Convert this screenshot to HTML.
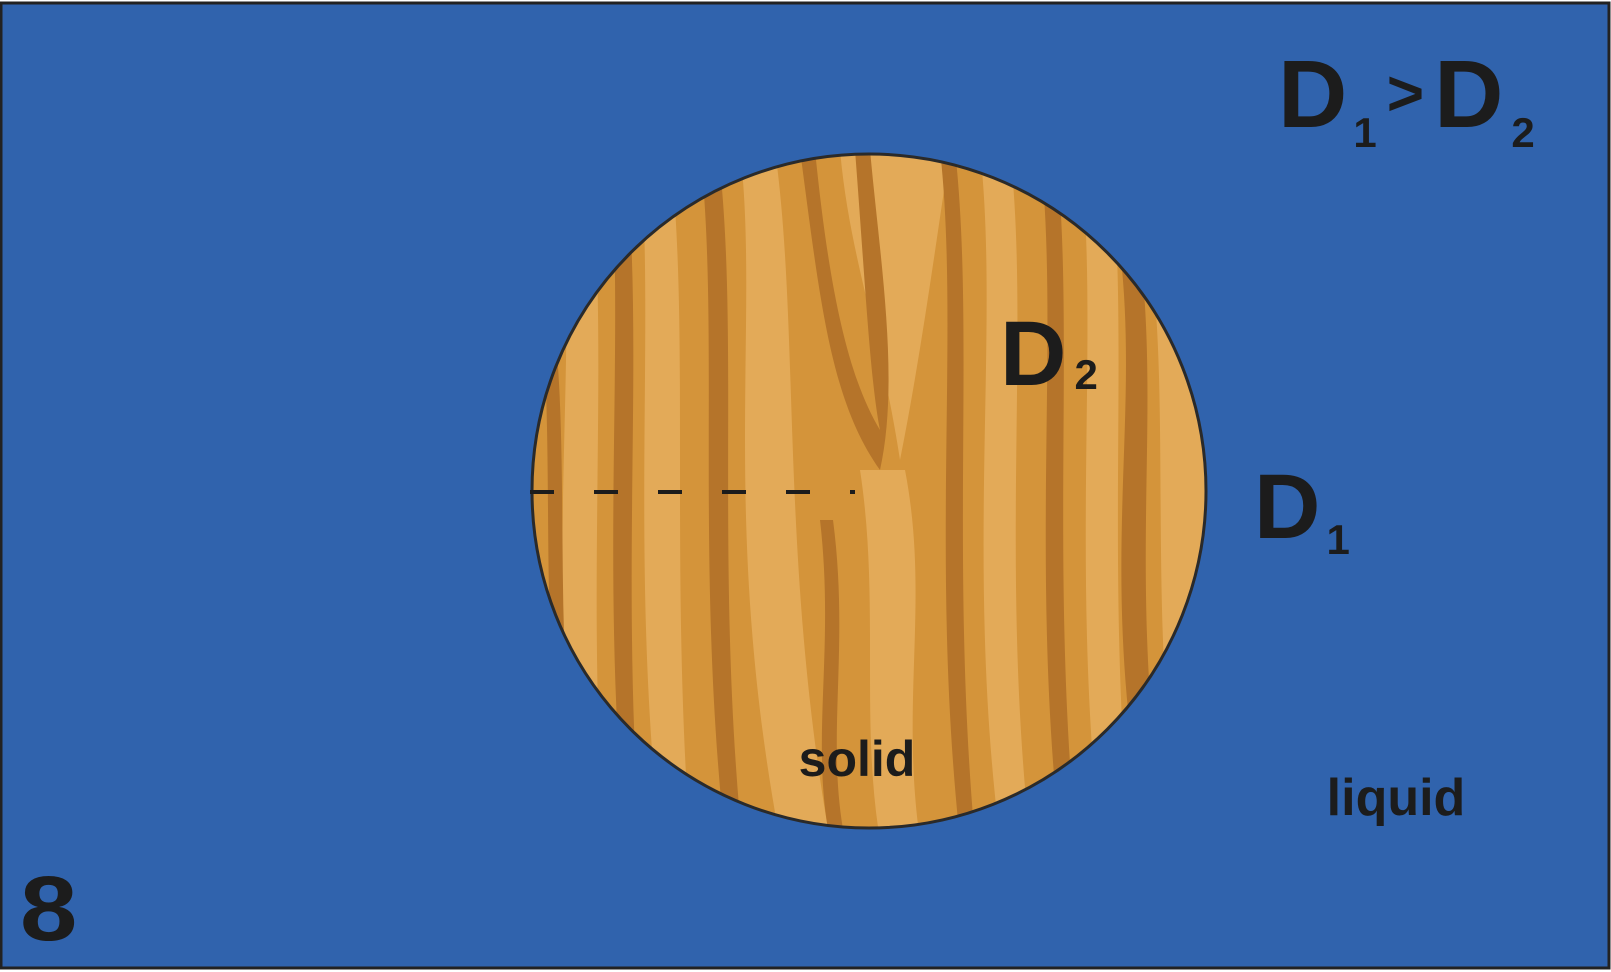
<!DOCTYPE html>
<html><head><meta charset="utf-8">
<style>
html,body{margin:0;padding:0;background:#fff;}
svg{display:block;}
text{font-family:"Liberation Sans",sans-serif;fill:#1c1c1c;}
</style></head>
<body>
<svg width="1611" height="972" viewBox="0 0 1611 972">
  <defs>
    <clipPath id="circ"><circle cx="869" cy="491" r="337"/></clipPath>
  </defs>
  <rect x="0" y="0" width="1611" height="972" fill="#fff"/>
  <rect x="1" y="3" width="1608" height="965" fill="#3063ad" stroke="#222" stroke-width="3"/>
  <g clip-path="url(#circ)">
    <rect x="520" y="140" width="700" height="700" fill="#d4943a"/>
    <g fill="#e3aa58">
      <path d="M560 150 C580 350 545 550 575 840 L605 840 C585 600 610 350 590 150Z"/>
      <path d="M640 150 C655 330 630 560 660 840 L690 840 C670 560 690 330 670 150Z"/>
      <path d="M740 150 C760 320 720 520 780 840 L830 840 C780 560 800 330 775 150Z"/>
      <path d="M840 150 C850 260 880 330 900 460 C920 360 935 250 950 150Z"/>
      <path d="M860 470 C880 600 860 720 880 840 L920 840 C900 700 930 600 905 470Z"/>
      <path d="M980 150 C1000 330 965 560 1000 840 L1030 840 C1000 560 1030 330 1010 150Z"/>
      <path d="M1080 150 C1100 330 1070 560 1100 840 L1130 840 C1105 560 1130 330 1110 150Z"/>
      <path d="M1150 250 C1170 400 1150 600 1175 800 L1210 800 L1210 250Z"/>
    </g>
    <g fill="#b5742a">
      <path d="M610 150 C625 350 600 560 625 840 L640 840 C620 560 645 350 625 150Z"/>
      <path d="M700 150 C720 330 695 560 725 840 L742 840 C715 560 740 330 718 150Z"/>
      <path d="M800 150 C820 300 830 400 880 470 C900 380 880 260 870 150 L855 150 C865 280 870 380 880 430 C850 380 830 300 815 150Z"/>
      <path d="M940 150 C960 330 930 560 960 840 L975 840 C950 560 975 330 955 150Z"/>
      <path d="M1040 150 C1060 330 1030 560 1060 840 L1076 840 C1050 560 1075 330 1056 150Z"/>
      <path d="M1120 250 C1140 420 1100 560 1140 800 L1160 800 C1130 560 1160 420 1140 250Z"/>
      <path d="M540 300 C555 450 540 600 560 760 L572 760 C555 600 570 450 552 300Z"/>
      <path d="M820 520 C835 650 810 740 830 840 L845 840 C825 740 850 650 833 520Z"/>
    </g>
  </g>
  <circle cx="869" cy="491" r="337" fill="none" stroke="#2a2a2a" stroke-width="3"/>
  <line x1="530" y1="492" x2="855" y2="492" stroke="#1c1c1c" stroke-width="4" stroke-dasharray="24,40"/>
  <text x="1278" y="127" font-size="96" font-weight="bold">D<tspan font-size="42" dx="6" dy="20">1</tspan><tspan font-size="64" dx="10" dy="-32">&gt;</tspan><tspan dx="10" dy="12">D</tspan><tspan font-size="42" dx="8" dy="20">2</tspan></text>
  <text x="1000" y="385" font-size="92" font-weight="bold">D<tspan font-size="42" dx="8" dy="4">2</tspan></text>
  <text x="1254" y="538" font-size="92" font-weight="bold">D<tspan font-size="42" dx="6" dy="16">1</tspan></text>
  <text x="857" y="776" font-size="50" font-weight="bold" text-anchor="middle" style="font-weight:600">solid</text>
  <text x="1396" y="815" font-size="52" text-anchor="middle" style="font-weight:600">liquid</text>
  <text x="20" y="940" font-size="92" font-weight="bold" transform="translate(20 940) scale(1.12 1) translate(-20 -940)">8</text>
</svg>
</body></html>
